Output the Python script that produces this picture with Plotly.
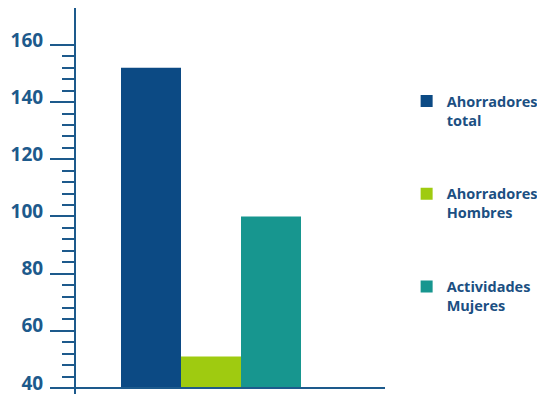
import plotly.graph_objects as go

series_names = ["Ahorradores<br>total", "Ahorradores<br>Hombres", "Actividades<br>Mujeres"]
series_values = [152, 51, 100]
series_colors = ["#0c4a84", "#9fcb10", "#17968f"]
x_positions = [0, 1, 2]
y_tick_values = [40, 60, 80, 100, 120, 140, 160]
y_minor_values = [44, 48, 52, 56, 64, 68, 72, 76, 84, 88, 92, 96, 104, 108, 112, 116,
                  124, 128, 132, 136, 144, 148, 152, 156]
baseline = 40

axis_color = "#1d5a8c"
text_color = "#1b4f82"

fig = go.Figure()
for i, (name, val, col) in enumerate(zip(series_names, series_values, series_colors)):
    fig.add_trace(go.Bar(
        x=[x_positions[i]], y=[val - baseline], base=baseline, name=name, width=1.0,
        marker=dict(color=col, line=dict(width=0)),
        legendgroup=f"g{i}", showlegend=True,
    ))

fig.add_shape(type="line", xref="paper", yref="y", x0=0, x1=1, y0=baseline, y1=baseline,
              line=dict(color=axis_color, width=2))

fig.update_layout(
    width=537, height=386,
    margin=dict(l=68, r=160, t=0, b=0, autoexpand=False),
    paper_bgcolor="white", plot_bgcolor="white",
    barmode="overlay",
    showlegend=True,
    legend=dict(
        x=1.07, xanchor="left", y=0.80, yanchor="top",
        xref="paper", yref="paper",
        font=dict(family="Open Sans", size=14.5, color=text_color, weight="bold"),
        valign="top", tracegroupgap=52, traceorder="grouped",
        bgcolor="rgba(0,0,0,0)", itemclick=False,
    ),
    xaxis=dict(range=[-1.25, 3.9], showticklabels=False, showgrid=False,
               zeroline=False, showline=False, ticks=""),
    yaxis=dict(range=[37.9, 172.9], tickvals=y_tick_values, showgrid=False,
               zeroline=False, showline=True, linecolor=axis_color, linewidth=2,
               ticks="outside", ticklen=24, tickwidth=2, tickcolor=axis_color,
               tickfont=dict(family="Open Sans", size=19, color=axis_color, weight="bold"),
               ticklabelstandoff=3, ticklabelshift=-5, ticklabeloverflow="allow",
               minor=dict(tickvals=y_minor_values, ticks="outside", ticklen=12, tickwidth=2,
                          tickcolor=axis_color, showgrid=False)),
)

fig.write_html("out.html")
